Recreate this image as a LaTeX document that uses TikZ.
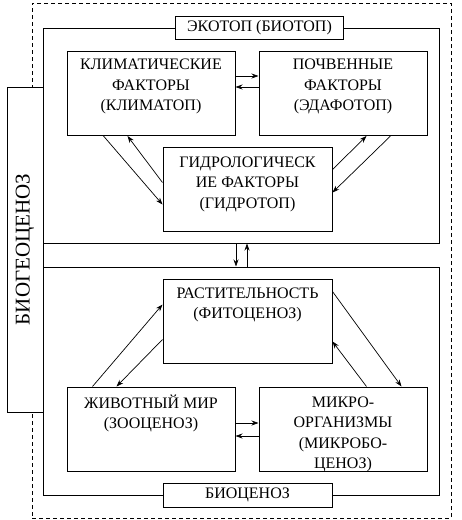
\documentclass[tikz,border=0pt]{standalone}
\usepackage{fontspec}
\setmainfont{Liberation Serif}
\usetikzlibrary{arrows.meta,positioning}

\begin{document}
\begin{tikzpicture}[x=1pt, y=-1pt,
    box/.style={draw, line width=1pt, minimum width=168pt, minimum height=84pt, inner sep=0pt},
    zone/.style={draw, line width=1pt, minimum width=396pt, inner sep=0pt},
    tag/.style={draw, line width=1pt, fill=white, minimum width=168pt, minimum height=23pt, inner sep=0pt, font=\fontsize{16}{18}\selectfont},
    txt/.style={align=center, inner sep=0pt, font=\fontsize{16}{20.5}\selectfont},
    arr/.style={-{Stealth[length=7pt, width=5pt]}, line width=0.7pt}
]
\useasboundingbox (0,0) rectangle (462,520);

% outer frame and the two zones
\node[draw, dashed, dash pattern=on 4pt off 3pt, line width=0.8pt, minimum width=419pt, minimum height=515pt] (outer) at (241.5,260.5) {};
\node[zone, minimum height=215pt] (eco) at (241,135.5) {};
\node[zone, minimum height=228pt] (bio) at (241,381) {};
\node[tag] (ecotag) at (259.5,28) {ЭКОТОП (БИОТОП)};
\node[tag, minimum width=169pt, minimum height=24pt] (biotag) at (247.5,495) {БИОЦЕНОЗ};
\node[draw, line width=1pt, fill=white, minimum width=36pt, minimum height=325pt, inner sep=0pt] (biogeo) at (25,249.5) {};
\node[rotate=90, font=\fontsize{21}{24}\selectfont] (biogeotxt) at (biogeo.center) {БИОГЕОЦЕНОЗ};

% ecotope
\node[box] (clim) at (151,93.5) {};
\node[box] (soil) at (343,93.5) {};
\node[box, minimum width=169pt] (hyd) at (247.5,189) {};
\node[txt, below=8pt of clim.north] (climtxt) {КЛИМАТИЧЕСКИЕ\\ФАКТОРЫ\\(КЛИМАТОП)};
\node[txt, below=8pt of soil.north] (soiltxt) {ПОЧВЕННЫЕ\\ФАКТОРЫ\\(ЭДАФОТОП)};
\node[txt, below=10pt of hyd.north] (hydtxt) {ГИДРОЛОГИЧЕСК\\ИЕ ФАКТОРЫ\\(ГИДРОТОП)};

% biocenosis
\node[box, minimum width=169pt] (plant) at (247.5,321) {};
\node[box] (animal) at (151,429) {};
\node[box] (micro) at (343,429) {};
\node[txt, below=9pt of plant.north] (planttxt) {РАСТИТЕЛЬНОСТЬ\\(ФИТОЦЕНОЗ)};
\node[txt, below=8pt of animal.north] (animaltxt) {ЖИВОТНЫЙ МИР\\(ЗООЦЕНОЗ)};
\node[txt, below=10pt of micro.north] (microtxt) {МИКРО-\\ОРГАНИЗМЫ\\(МИКРОБО-\\ЦЕНОЗ)};

% links
\draw[arr] ([yshift=17.5pt]clim.east) -- ([yshift=17.5pt]soil.west);
\draw[arr] ([yshift=6.5pt]soil.west) -- ([yshift=6.5pt]clim.east);
\draw[arr] ([xshift=37pt]clim.south west) -- ([yshift=-58pt]hyd.north west);
\draw[arr] ([yshift=-36pt]hyd.north west) -- ([xshift=61pt]clim.south west);
\draw[arr] ([yshift=-23pt]hyd.north east) -- ([xshift=108pt]soil.south west);
\draw[arr] ([xshift=132pt]soil.south west) -- ([yshift=-46pt]hyd.north east);

\draw[arr] ([xshift=-5pt]eco.south) -- ([xshift=-5pt]bio.north);
\draw[arr] ([xshift=6pt]bio.north) -- ([xshift=6pt]eco.south);

\draw[arr] ([xshift=26pt]animal.north west) -- ([yshift=-26pt]plant.north west);
\draw[arr] ([yshift=-61pt]plant.north west) -- ([xshift=50pt]animal.north west);
\draw[arr] ([yshift=-13pt]plant.north east) -- ([xshift=143pt]micro.north west);
\draw[arr] ([xshift=108pt]micro.north west) -- ([yshift=-63pt]plant.north east);
\draw[arr] ([yshift=6pt]animal.east) -- ([yshift=6pt]micro.west);
\draw[arr] ([yshift=-7pt]micro.west) -- ([yshift=-7pt]animal.east);
\end{tikzpicture}
\end{document}
